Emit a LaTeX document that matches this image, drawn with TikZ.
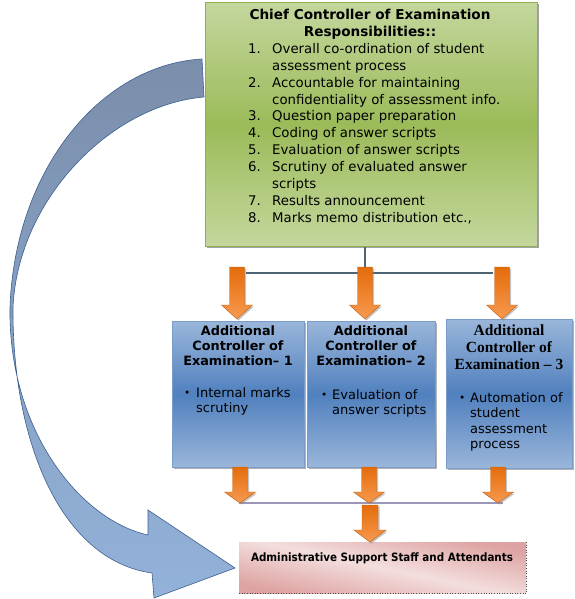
\documentclass[tikz,border=0pt]{standalone}
\usepackage{fontspec}
\setmainfont{DejaVu Sans}
\newfontfamily\serifbf{Liberation Serif}
\newfontfamily\condf{DejaVu Sans Condensed}
\usetikzlibrary{shadows}
\definecolor{gtop}{HTML}{C4D79D}
\definecolor{gmid}{HTML}{9BBB59}
\definecolor{gedge}{HTML}{8FAE50}
\definecolor{btop}{HTML}{9AB6DA}
\definecolor{bmid}{HTML}{5080BE}
\definecolor{bedge}{HTML}{7A9CCB}
\definecolor{odark}{HTML}{E46C0A}
\definecolor{olight}{HTML}{F79A50}
\definecolor{oedge}{HTML}{C0600F}
\definecolor{conn}{HTML}{4D6474}
\definecolor{conn2}{HTML}{9C97B8}
\definecolor{ptop}{HTML}{DDA3A2}
\definecolor{pmid}{HTML}{F3DEDD}
\definecolor{atop}{HTML}{7B8EAB}
\definecolor{abot}{HTML}{93B2DA}
\definecolor{aedge}{HTML}{3D5F8E}
\tikzset{
  gbox/.style={draw=gedge, line width=0.8pt, top color=gtop, bottom color=gtop, middle color=gmid,
    inner sep=0pt, anchor=north west,
    drop shadow={shadow xshift=1.5pt, shadow yshift=-2pt, opacity=0.6, fill=black!60}},
  bbox/.style={draw=bedge, line width=0.6pt, top color=btop, bottom color=btop, middle color=bmid,
    inner sep=0pt, anchor=north west,
    drop shadow={shadow xshift=1.5pt, shadow yshift=-1.5pt, opacity=0.6, fill=black!50}},
  pbox/.style={shading=axis, top color=ptop, bottom color=ptop, middle color=pmid, shading angle=-12,
    inner sep=0pt, anchor=north west},
  connline/.style={draw=conn, line width=2pt},
  connline2/.style={draw=conn2, line width=2pt},
  headtxt/.style={font=\bfseries\fontsize{12.8}{15}\selectfont, align=center, inner sep=0pt, anchor=north},
  bultxt/.style={font=\fontsize{13}{15.5}\selectfont, align=left, inner sep=0pt, anchor=north west},
  pics/oarrow/.style n args={3}{code={
    \fill[black!45, opacity=0.5] (-#3+1.5,1.5) -- (#3+1.5,1.5) -- (#3+1.5,#1+1.5) -- (#3+9.5,#1+1.5)
       -- (1.5,#1+#2+1.5) -- (-#3-6.5,#1+1.5) -- (-#3+1.5,#1+1.5) -- cycle;
    \shade[top color=odark, bottom color=olight, draw=oedge, line width=0.4pt]
       (-#3,0) -- (#3,0) -- (#3,#1) -- (#3+8,#1) -- (0,#1+#2) -- (-#3-8,#1) -- (-#3,#1) -- cycle;
  }}
}
\newcommand{\bul}[1]{\makebox[#1][l]{\raisebox{0.8pt}{\fontsize{10.5}{10.5}\selectfont•}}}
\begin{document}
\begin{tikzpicture}[x=1pt,y=-1pt]
\useasboundingbox (0,0) rectangle (574,599);
\fill[white] (0,0) rectangle (574,599);

% big curved arrow
\shade[top color=atop, bottom color=abot, draw=aedge, line width=0.6pt]
  (202,59) .. controls (100,65) and (15,170) .. (10,307)
  .. controls (8,430) and (80,520) .. (148,535)
  -- (148,510) -- (235,568) -- (154,598) -- (152,573)
  .. controls (60,560) and (12,440) .. (13,307)
  .. controls (18,200) and (110,105) .. (204,97) -- cycle;

% chief controller box
\node[gbox, minimum width=332, minimum height=244] (cce) at (205,2) {};
\node[font=\bfseries\fontsize{13.6}{17}\selectfont, align=center, inner sep=0pt, anchor=north] (cct) at (370,9) {Chief Controller of Examination\\Responsibilities::};
\node[font=\fontsize{13.3}{16.9}\selectfont, align=left, inner sep=0pt, anchor=north west] (ccl) at (248,43) {%
\makebox[24pt][l]{1.}Overall co-ordination of student\\
\hspace*{24pt}assessment process\\
\makebox[24pt][l]{2.}Accountable for maintaining\\
\hspace*{24pt}confidentiality of assessment info.\\
\makebox[24pt][l]{3.}Question paper preparation\\
\makebox[24pt][l]{4.}Coding of answer scripts\\
\makebox[24pt][l]{5.}Evaluation of answer scripts\\
\makebox[24pt][l]{6.}Scrutiny of evaluated answer\\
\hspace*{24pt}scripts\\
\makebox[24pt][l]{7.}Results announcement\\
\makebox[24pt][l]{8.}Marks memo distribution etc.,};

% connector tree
\coordinate (tj) at (365,273);
\coordinate (tl) at (246,273);
\coordinate (tr) at (493,273);
\draw[connline] (tj |- cce.south) -- (tj);
\draw[connline] (tl) -- (tr);

% additional controller boxes
\node[bbox, minimum width=132, minimum height=146] (ace1) at (172,321) {};
\node[bbox, minimum width=128, minimum height=146] (ace2) at (307,321) {};
\node[bbox, minimum width=126, minimum height=149] (ace3) at (446,319) {};

\pic (oa1) at (237,267) {oarrow={38}{14}{7.5}};
\pic (oa2) at (365,267) {oarrow={38}{14}{7.5}};
\pic (oa3) at (502,267) {oarrow={38}{14}{7.5}};

\node[headtxt] (h1) at (238,326) {Additional\\Controller of\\Examination– 1};
\node[headtxt] (h2) at (371,326) {Additional\\Controller of\\Examination– 2};
\node[font=\serifbf\bfseries\fontsize{15.5}{17}\selectfont, align=center, inner sep=0pt, anchor=north] (h3) at (509,325) {Additional\\Controller of\\Examination – 3};

\node[bultxt] (b1) at (184,387) {\bul{12pt}Internal marks\\\hspace*{12pt}scrutiny};
\node[bultxt] (b2) at (321,389) {\bul{11pt}Evaluation of\\\hspace*{11pt}answer scripts};
\node[bultxt] (b3) at (459,392) {\bul{11pt}Automation of\\\hspace*{11pt}student\\\hspace*{11pt}assessment\\\hspace*{11pt}process};

% lower bar and arrows
\coordinate (bl) at (239,503);
\coordinate (br) at (503,503);
\draw[connline2] (bl) -- (br);
\pic (ob1) at (240,467) {oarrow={25}{11}{7.5}};
\pic (ob2) at (369,467) {oarrow={25}{11}{7.5}};
\pic (ob3) at (498,467) {oarrow={25}{11}{7.5}};

% admin box
\node[pbox, minimum width=287, minimum height=51] (adm) at (239,542) {};
\draw[black!70, dotted, line width=0.6pt] (adm.north east) -- (adm.south east) -- (adm.south west);
\pic (oc) at (370,505) {oarrow={25}{12}{8}};
\node[font=\condf\bfseries\fontsize{11.5}{14}\selectfont, inner sep=0pt, anchor=north] (admt) at (382,553) {Administrative Support Staff and Attendants};
\end{tikzpicture}
\end{document}
